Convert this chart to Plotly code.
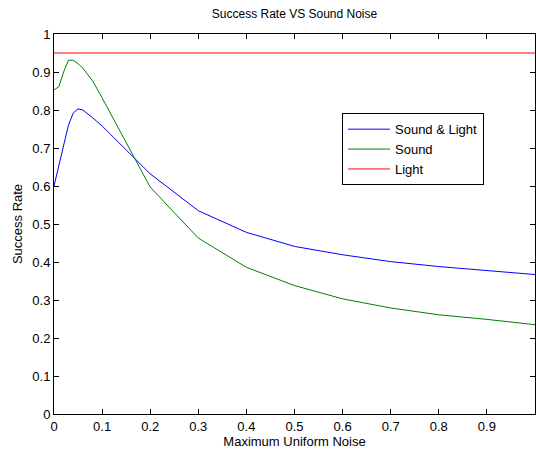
import plotly.graph_objects as go

noise = [0.0, 0.01, 0.02, 0.03, 0.04, 0.05, 0.06, 0.07, 0.08, 0.09, 0.1,
         0.2, 0.3, 0.4, 0.5, 0.6, 0.7, 0.8, 0.9, 1.0]
sound_light = [0.600, 0.653, 0.706, 0.760, 0.792, 0.803, 0.800, 0.791, 0.780, 0.769, 0.758,
               0.632, 0.535, 0.478, 0.441, 0.419, 0.401, 0.388, 0.377, 0.367]
sound = [0.853, 0.861, 0.900, 0.931, 0.931, 0.922, 0.910, 0.893, 0.877, 0.855, 0.832,
         0.597, 0.463, 0.386, 0.338, 0.303, 0.279, 0.261, 0.249, 0.235]
light = [0.95] * len(noise)

x_ticks = [0, 0.1, 0.2, 0.3, 0.4, 0.5, 0.6, 0.7, 0.8, 0.9, 1]
x_tick_text = ["0", "0.1", "0.2", "0.3", "0.4", "0.5", "0.6", "0.7", "0.8", "0.9", "1"]
y_ticks = [0, 0.1, 0.2, 0.3, 0.4, 0.5, 0.6, 0.7, 0.8, 0.9, 1]
y_tick_text = ["0", "0.1", "0.2", "0.3", "0.4", "0.5", "0.6", "0.7", "0.8", "0.9", "1"]

FONT = "Liberation Sans, Arial, Helvetica, sans-serif"

fig = go.Figure()
fig.add_trace(go.Scatter(x=noise, y=sound_light, mode="lines", name="Sound & Light",
                         line=dict(color="#0000ff", width=1)))
fig.add_trace(go.Scatter(x=noise, y=sound, mode="lines", name="Sound",
                         line=dict(color="#008000", width=1)))
fig.add_trace(go.Scatter(x=noise, y=light, mode="lines", name="Light",
                         line=dict(color="#ff0000", width=1)))

axis_common = dict(
    showgrid=False, zeroline=False, showline=True, linecolor="black", linewidth=1,
    mirror="ticks", ticks="inside", ticklen=5, tickcolor="black", tickwidth=1,
    tickfont=dict(family=FONT, size=13, color="black"), automargin=False,
)

fig.update_layout(
    width=536, height=452,
    margin=dict(l=54, r=1, t=34, b=38),
    paper_bgcolor="white", plot_bgcolor="white",
    font=dict(family=FONT, size=12, color="black"),
    title=dict(text="Success Rate VS Sound Noise", x=(54 + 535) / 2 / 536, xanchor="center",
               y=1 - 14 / 452, yanchor="middle", font=dict(family=FONT, size=12, color="black")),
    xaxis=dict(range=[0, 1], tickvals=x_ticks, ticktext=x_tick_text, ticklabelstandoff=0,
               title=dict(text="Maximum Uniform Noise", standoff=4,
                          font=dict(family=FONT, size=13)), **axis_common),
    yaxis=dict(range=[0, 1], tickvals=y_ticks, ticktext=y_tick_text,
               title=dict(text="Success Rate", standoff=6,
                          font=dict(family=FONT, size=13)), **axis_common),
    legend=dict(x=(342 - 54) / 481, y=(413 - 113) / 379, xanchor="left", yanchor="top",
                bgcolor="white", bordercolor="black", borderwidth=1,
                font=dict(family=FONT, size=13, color="black"),
                tracegroupgap=0, itemwidth=42),
    showlegend=True,
)

fig.write_html("out.html", config={"displayModeBar": False},
               post_script="document.body.style.margin='0';")
